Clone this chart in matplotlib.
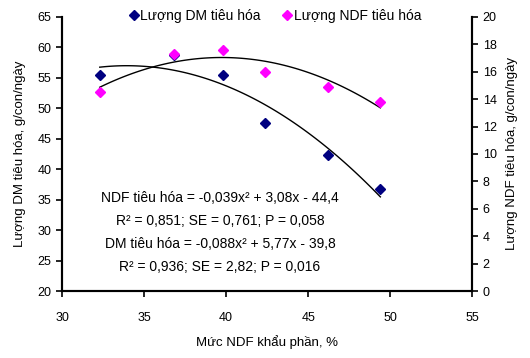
import numpy as np
import matplotlib
matplotlib.use("Agg")
import matplotlib.pyplot as plt

plt.rcParams['font.family'] = ['Liberation Sans', 'DejaVu Sans']

# Mức NDF khẩu phần, %
ndf_level = [32.3, 36.8, 39.8, 42.4, 46.2, 49.4]
# Lượng DM tiêu hóa (trục trái)
dm_digest = [55.4, 58.8, 55.4, 47.6, 42.4, 36.7]
# Lượng NDF tiêu hóa (trục phải)
ndf_digest = [14.5, 17.3, 17.6, 16.0, 14.9, 13.8]

eq_lines = [
    "NDF tiêu hóa = -0,039x² + 3,08x - 44,4",
    "R² = 0,851; SE = 0,761; P = 0,058",
    "DM tiêu hóa = -0,088x² + 5,77x - 39,8",
    "R² = 0,936; SE = 2,82; P = 0,016",
]

fig = plt.figure(figsize=(5.3, 3.58), dpi=100)
ax = fig.add_axes([0.117, 0.187, 0.774, 0.766])
ax2 = ax.twinx()

# trend lines (quadratic fit of the points)
xs = np.linspace(min(ndf_level), max(ndf_level), 100)
c_dm = np.polyfit(ndf_level, dm_digest, 2)
c_ndf = np.polyfit(ndf_level, ndf_digest, 2)
ax.plot(xs, np.polyval(c_dm, xs), color='black', lw=1.0, zorder=2)
ax2.plot(xs, np.polyval(c_ndf, xs), color='black', lw=1.0, zorder=2)

ax.plot(ndf_level, dm_digest, 'D', color='#000080', ms=5.5, ls='none',
        label='Lượng DM tiêu hóa', zorder=3)
ax2.plot(ndf_level, ndf_digest, 'D', color='#ff00ff', ms=5.5, ls='none',
         label='Lượng NDF tiêu hóa', zorder=3)

ax.set_xlim(30, 55)
ax.set_ylim(20, 65)
ax2.set_ylim(0, 20)
ax.set_xticks(range(30, 56, 5))
ax.set_yticks(range(20, 66, 5))
ax2.set_yticks(range(0, 21, 2))

for a in (ax, ax2):
    a.spines['top'].set_visible(False)
    for s in ('left', 'right', 'bottom'):
        a.spines[s].set_linewidth(1.5)
    a.tick_params(direction='out', width=1.2, length=4, labelsize=9)
ax.tick_params(axis='x', pad=11)

ax.set_xlabel('Mức NDF khẩu phần, %', fontsize=9.5, labelpad=8)
ax.set_ylabel('Lượng DM tiêu hóa, g/con/ngày', fontsize=9.5, labelpad=8)
ax2.set_ylabel('Lượng NDF tiêu hóa, g/con/ngày', fontsize=9.5, rotation=90, labelpad=7)

for i, t in enumerate(eq_lines):
    fig.text(220 / 530, 1 - (198 + 23 * i) / 358, t, ha='center', va='center', fontsize=10)

h1, l1 = ax.get_legend_handles_labels()
h2, l2 = ax2.get_legend_handles_labels()
fig.legend(h1 + h2, l1 + l2, loc='center', bbox_to_anchor=(0.52, 0.955), ncol=2,
           frameon=False, fontsize=10, handlelength=0.6, handletextpad=0.2,
           columnspacing=1.6, markerscale=0.9)

fig.savefig('out.png', dpi=100)
